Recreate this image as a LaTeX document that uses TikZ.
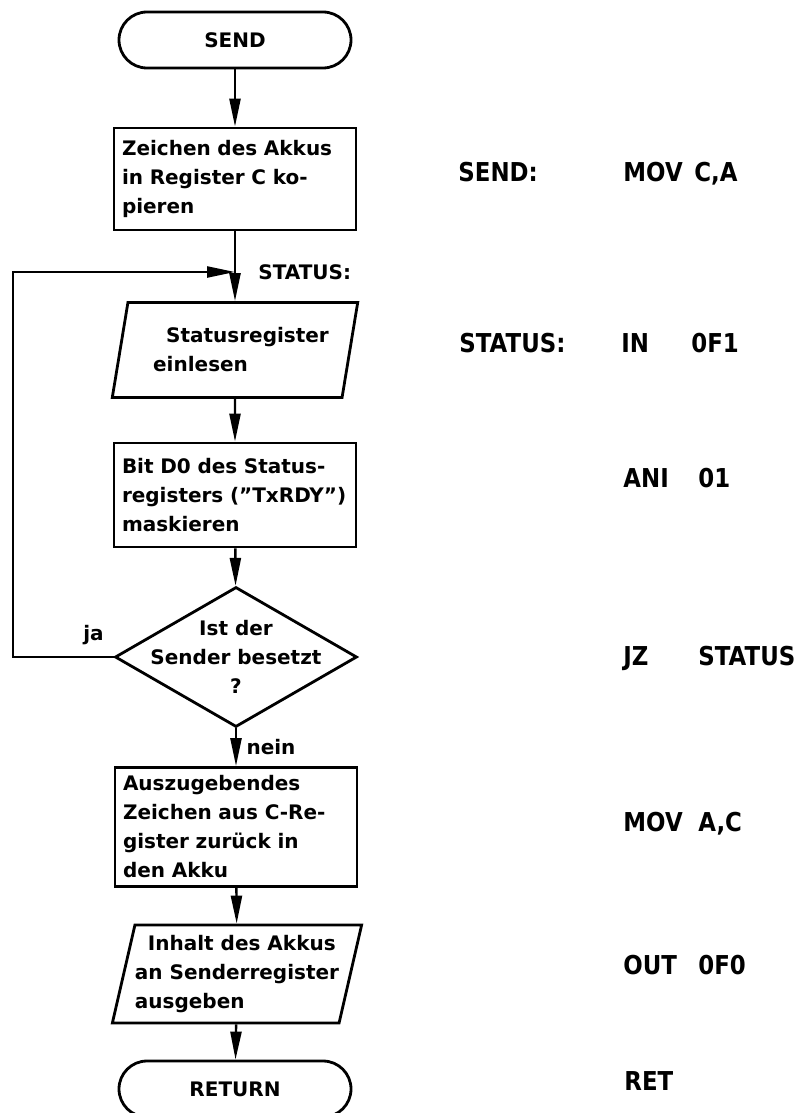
\documentclass[tikz,border=0pt]{standalone}
\usepackage{fontspec}
\setmainfont{DejaVu Sans}
\newfontfamily\codefont{DejaVu Sans}[FakeStretch=0.88]
\usetikzlibrary{positioning,shapes.geometric,arrows.meta}

\begin{document}
\begin{tikzpicture}[x=1pt,y=-1pt,line width=2.8pt,
                    font=\bfseries\fontsize{20}{29}\selectfont,
                    terminal/.style={rectangle,draw,rounded corners=28pt,minimum width=232pt,minimum height=56pt},
                    process/.style={rectangle,draw,minimum width=242pt,text width=226pt,inner xsep=8pt,align=left},
                    io/.style={trapezium,draw,trapezium left angle=75,trapezium right angle=105,trapezium stretches=true,
                               minimum width=246pt,inner xsep=0pt,align=left},
                    decision/.style={diamond,draw,minimum width=242pt,minimum height=140pt,inner sep=0pt},
                    flow/.style={line width=2.4pt,-{Triangle[length=28pt,width=11pt]}},
                    code/.style={anchor=base west,inner sep=0pt,font=\codefont\bfseries\fontsize{26}{30}\selectfont}
                   ]
    \useasboundingbox (0,0) rectangle (800,1113);

    % flowchart
    \node[terminal] (send) at (235,40) {SEND};
    \node[process,minimum height=102pt] (copy) at (235,179) {Zeichen des Akkus\\in Register C ko-\\pieren};
    \coordinate (merge) at (235,272);
    \node[inner sep=0pt,right=22pt of merge] (statuslabel) {STATUS:};
    \node[io,minimum height=95pt] (read) at (235,350) {\hspace*{25pt}Statusregister\\\hspace*{12pt}einlesen};
    \node[process,minimum height=104pt] (mask) at (235,495) {Bit D0 des Status-\\registers ("TxRDY")\\maskieren};
    \node[decision,label={[align=center]center:Ist der\\Sender besetzt\\?}] (dec) at (236,657) {};
    \node[process,minimum height=119pt] (restore) at (236,827) {Auszugebendes\\Zeichen aus C-Re-\\gister zurück in\\den Akku};
    \node[io,minimum height=98pt] (output) at (237,974) {\hspace*{13pt}Inhalt des Akkus\\an Senderregister\\ausgeben};
    \node[terminal] (return) at (235,1089) {RETURN};
    \coordinate (back) at (13,272);

    \path[flow]
      (send) edge (copy)
      (copy) edge (read)
      (read) edge (mask)
      (mask) edge (dec)
      (dec) edge node[right=6pt] {nein} (restore)
      (restore) edge (output)
      (output) edge (return);
    \draw[flow] (dec.west) -- node[above=8pt,pos=0.2] {ja} (dec.west -| back) -- (back) -- (merge);

    % program listing
    \node[code] (sendlbl) at (457,181) {SEND:};
    \node[code] (movca) at (622,181) {MOV};
    \node[code] (ca) at (693,181) {C,A};
    \node[code] (statuslbl) at (458,352) {STATUS:};
    \node[code] (in) at (620,352) {IN};
    \node[code] (inport) at (690,352) {0F1};
    \node[code] (ani) at (622,487) {ANI};
    \node[code] (animask) at (697,487) {01};
    \node[code] (jz) at (622,665) {JZ};
    \node[code] (jztarget) at (697,665) {STATUS};
    \node[code] (movac) at (622,831) {MOV};
    \node[code] (ac) at (697,831) {A,C};
    \node[code] (out) at (622,974) {OUT};
    \node[code] (outport) at (697,974) {0F0};
    \node[code] (ret) at (623,1090) {RET};
\end{tikzpicture}
\end{document}
